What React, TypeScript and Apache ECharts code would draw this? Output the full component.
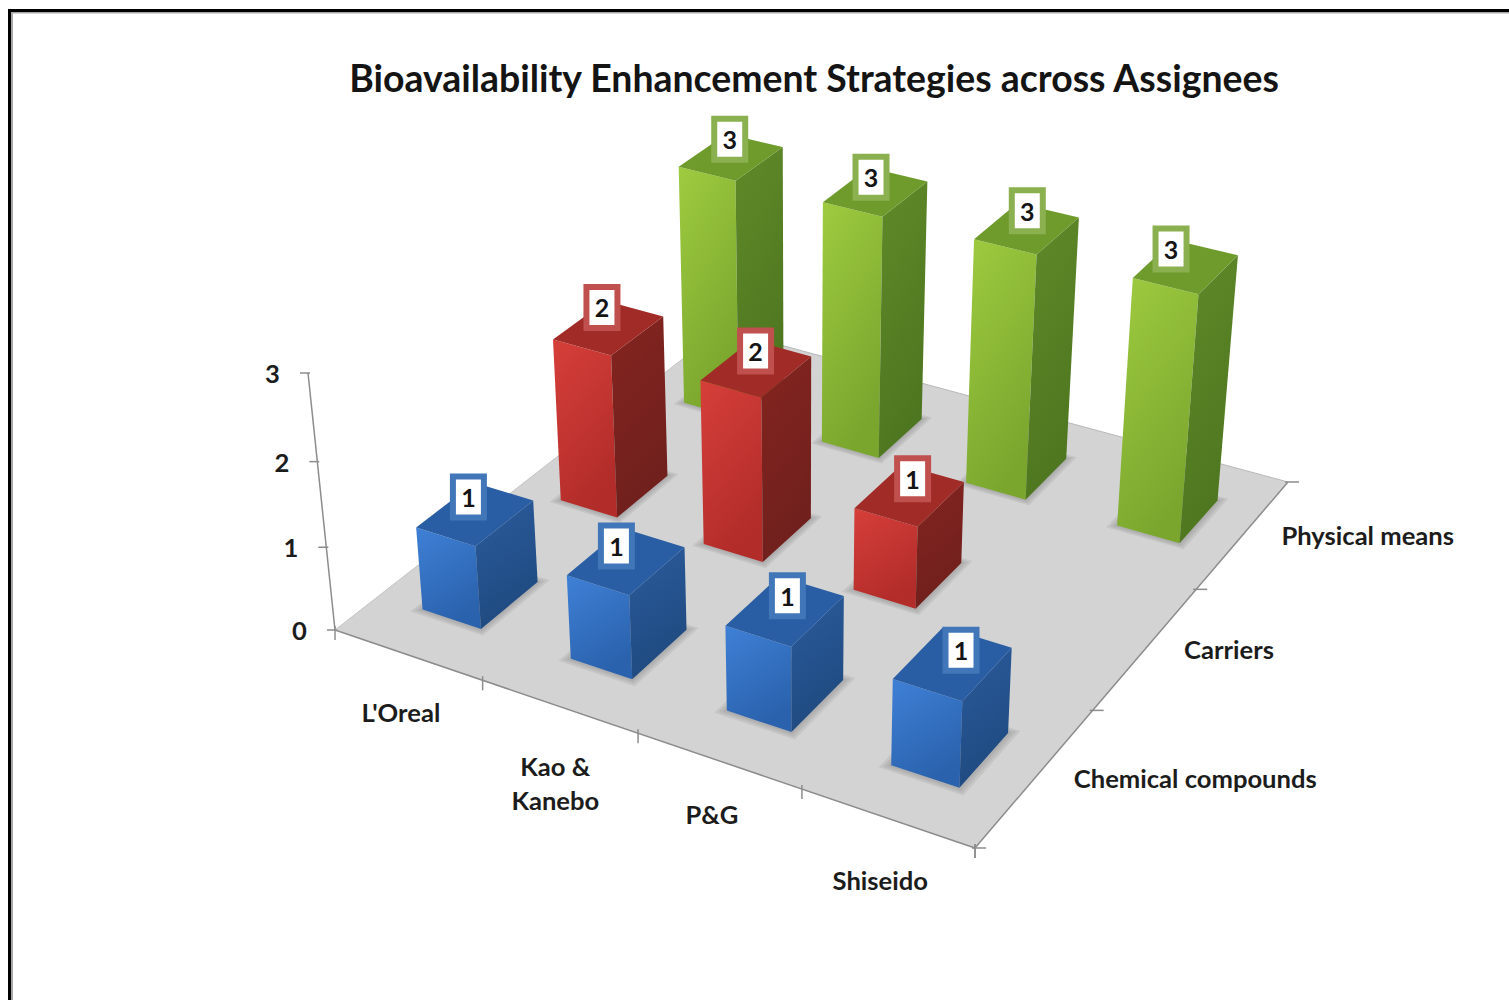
import React, { useEffect, useRef } from "react";
import * as echarts from "echarts";

const chartTitle = "Bioavailability Enhancement Strategies across Assignees";
const assignees = ["L'Oreal", "Kao &\nKanebo", "P&G", "Shiseido"];
const strategies = ["Chemical compounds", "Carriers", "Physical means"];
const valueTicks = [0, 1, 2, 3];

const chemicalCompounds = [1, 1, 1, 1];
const carriers = [2, 2, 1, null];
const physicalMeans = [3, 3, 3, 3];

// Camera: floor corners on screen and the vanishing point of vertical lines.
const FLOOR = [[335, 630], [975, 848], [1288, 482], [721, 329]];
const VANISH = [845, 5486];
const Z_TOP = [308, 373];
const FONT = "Lato";

function makeProjection() {
  const [[x0, y0], [x1, y1], [x2, y2], [x3, y3]] = FLOOR;
  const dx1 = x1 - x2, dx2 = x3 - x2, dx3 = x0 - x1 + x2 - x3;
  const dy1 = y1 - y2, dy2 = y3 - y2, dy3 = y0 - y1 + y2 - y3;
  const den = dx1 * dy2 - dx2 * dy1;
  const g = (dx3 * dy2 - dx2 * dy3) / den;
  const h = (dx1 * dy3 - dx3 * dy1) / den;
  const a = x1 - x0 + g * x1, b = x3 - x0 + h * x3;
  const d = y1 - y0 + g * y1, e = y3 - y0 + h * y3;
  const maxV = valueTicks[valueTicks.length - 1];
  const k = (Z_TOP[1] - y0) / (maxV * (VANISH[1] - Z_TOP[1]));
  return (u: number, v: number, z: number) => {
    const w = g * u + h * v + 1 + k * z;
    return [
      (a * u + b * v + x0 + k * z * VANISH[0]) / w,
      (d * u + e * v + y0 + k * z * VANISH[1]) / w,
    ];
  };
}
const project = makeProjection();

const BAR_DU = 0.1;
const BAR_DV = 0.135;
const BAR_ROW_SHIFT_U = 0.002; // bars sit slightly right of the cell centre on rear rows
const BAR_LEAN = 0.7; // px to the right per unit of height

// Small pixel nudges of the value labels, by row then by assignee.
const LABEL_NUDGE_X = [[-4, -7, 5, 11], [-2, 4, 7, 0], [5, 2, 7, -8]];
const LABEL_NUDGE_Y = [[1, 3, 3, 5], [-2, 1, 2, 0], [1, 4, 1, 1]];
// Nudges of the assignee labels.
const ASSIGNEE_NUDGE_X = [0, 3, 0, 0];
const ASSIGNEE_NUDGE_Y = [-1, 19, -5, 4];

const grad = (x2: number, y2: number, c0: string, c1: string) =>
  new echarts.graphic.LinearGradient(0, 0, x2, y2, [
    { offset: 0, color: c0 },
    { offset: 1, color: c1 },
  ]);

const palettes = [
  { front: ["#3f80d6", "#2a62ad"], side: ["#2b5b9c", "#1f4a80"], top: "#2a5ea4", label: "#4177b8" },
  { front: ["#d63f3a", "#b22c29"], side: ["#84241f", "#70201d"], top: "#a12b27", label: "#c0504d" },
  { front: ["#9ecb3f", "#7aa62e"], side: ["#5f8a28", "#4e7620"], top: "#6f9b2c", label: "#8bb050" },
];

const SHADOW_STEPS = [0.012, 0.008, 0.004];

function barSeries(values: (number | null)[], row: number) {
  const pal = palettes[row];
  const data = values
    .map((val, i) => [i, val])
    .filter((d) => d[1] !== null);
  return {
    type: "custom",
    name: strategies[row],
    coordinateSystem: "none",
    z: 5 + (2 - row),
    silent: true,
    data,
    renderItem: (_: any, api: any) => {
      const i = api.value(0);
      const val = api.value(1);
      const uc = (i + 0.5) / assignees.length + BAR_ROW_SHIFT_U * row;
      const vc = (row + 0.5) / strategies.length;
      const u0 = uc - BAR_DU / 2, u1 = uc + BAR_DU / 2;
      const v0 = vc - BAR_DV / 2, v1 = vc + BAR_DV / 2;
      const pts = (z: number, grow = 0) =>
        [
          project(u0 - grow, v0 - grow, z),
          project(u1 + grow, v0 - grow, z),
          project(u1 + grow, v1 + grow, z),
          project(u0 - grow, v1 + grow, z),
        ].map((p) => [p[0] + BAR_LEAN * z, p[1]]);
      const b = pts(0);
      const t = pts(val);
      const tc = project((i + 0.5) / assignees.length, vc, val);
      const lx = tc[0] - 2 + LABEL_NUDGE_X[row][i];
      const ly = tc[1] - 18 + LABEL_NUDGE_Y[row][i];
      return {
        type: "group",
        children: [
          ...SHADOW_STEPS.map((grow) => ({
            type: "polygon",
            shape: { points: pts(0, grow) },
            style: { fill: "rgba(110,110,110,0.13)" },
          })),
          { type: "polygon", shape: { points: [t[0], t[1], b[1], b[0]] }, style: { fill: grad(0.4, 1, pal.front[0], pal.front[1]) } },
          { type: "polygon", shape: { points: [t[1], t[2], b[2], b[1]] }, style: { fill: grad(0.3, 1, pal.side[0], pal.side[1]) } },
          { type: "polygon", shape: { points: t }, style: { fill: pal.top } },
          {
            type: "rect",
            shape: { x: lx - 15.5, y: ly - 20.5, width: 31, height: 41 },
            style: { fill: "#ffffff", stroke: pal.label, lineWidth: 6 },
          },
          {
            type: "text",
            style: {
              x: lx, y: ly, text: String(val), textAlign: "center", textVerticalAlign: "middle",
              fontFamily: FONT, fontWeight: "bold", fontSize: 25, fill: "#141414",
            },
          },
        ],
      };
    },
  };
}

const AXIS = "#8c8c8c";
const seg = (a: number[], b: number[]) => ({
  type: "line",
  shape: { x1: a[0], y1: a[1], x2: b[0], y2: b[1] },
  style: { stroke: AXIS, lineWidth: 1.5 },
});
const axisText = (text: string, x: number, y: number, align = "center") => ({
  type: "text",
  style: {
    x, y, text, textAlign: align, textVerticalAlign: "middle", fontFamily: FONT, fontWeight: "bold",
    fontSize: 25.6, lineHeight: 34, fill: "#1c1c1c",
  },
});

const option = {
  animation: false,
  backgroundColor: "#ffffff",
  title: {
    text: chartTitle,
    left: 809,
    top: 54,
    textAlign: "center",
    textStyle: { fontFamily: FONT, fontWeight: "bold", fontSize: 37.4, color: "#141414" },
  },
  graphic: [
    { type: "rect", shape: { x: 8, y: 9, width: 3, height: 991 }, style: { fill: "#000000" } },
    { type: "rect", shape: { x: 8, y: 9, width: 1501, height: 3 }, style: { fill: "#000000" } },
    { type: "rect", shape: { x: 11, y: 12, width: 2, height: 988 }, style: { fill: "#a8a8a8" } },
    { type: "rect", shape: { x: 11, y: 12, width: 1498, height: 1.5 }, style: { fill: "#a8a8a8" } },
  ],
  series: [
    {
      type: "custom",
      name: "Floor",
      coordinateSystem: "none",
      z: 1,
      silent: true,
      data: [[0]],
      renderItem: () => {
        const corners = [project(0, 0, 0), project(1, 0, 0), project(1, 1, 0), project(0, 1, 0)];
        return {
          type: "group",
          children: [
            { type: "polygon", shape: { points: corners }, style: { fill: "#d3d3d3" } },
            seg(corners[0], corners[1]),
            seg(corners[1], corners[2]),
            { ...seg(corners[3], corners[2]), style: { stroke: "#b8b8b8", lineWidth: 1 } },
            { ...seg(corners[0], corners[3]), style: { stroke: "#c4c4c4", lineWidth: 1 } },
            seg(corners[0], project(0, 0, valueTicks[valueTicks.length - 1])),
          ],
        };
      },
    },
    {
      type: "custom",
      name: "Value axis",
      coordinateSystem: "none",
      z: 2,
      silent: true,
      data: valueTicks.map((t) => [t]),
      renderItem: (_: any, api: any) => {
        const t = api.value(0);
        const p = project(0, 0, t);
        return {
          type: "group",
          children: [
            seg([p[0] + 2, p[1]], [p[0] - 8, p[1]]),
            axisText(String(t), p[0] - 35.5, p[1]),
          ],
        };
      },
    },
    {
      type: "custom",
      name: "Assignee axis",
      coordinateSystem: "none",
      z: 2,
      silent: true,
      data: assignees.map((_, i) => [i]),
      renderItem: (_: any, api: any) => {
        const i = api.value(0);
        const n = assignees.length;
        const tick = project((i + 1) / n, 0, 0);
        const c = project((i + 0.5) / n, 0, 0);
        const children: any[] = [seg([tick[0], tick[1] - 4], [tick[0], tick[1] + 10])];
        children.push(axisText(assignees[i], c[0] - 7 + ASSIGNEE_NUDGE_X[i], c[1] + 58 + ASSIGNEE_NUDGE_Y[i]));
        return { type: "group", children };
      },
    },
    {
      type: "custom",
      name: "Strategy axis",
      coordinateSystem: "none",
      z: 2,
      silent: true,
      data: strategies.map((_, j) => [j]),
      renderItem: (_: any, api: any) => {
        const j = api.value(0);
        const n = strategies.length;
        const tick = project(1, (j + 1) / n, 0);
        const c = project(1, (j + 0.5) / n, 0);
        return {
          type: "group",
          children: [
            seg([tick[0] - 3, tick[1]], [tick[0] + 11, tick[1]]),
            axisText(strategies[j], c[0] + 38, c[1] + 1, "left"),
          ],
        };
      },
    },
    {
      type: "custom",
      name: "Corner ticks",
      coordinateSystem: "none",
      z: 2,
      silent: true,
      data: [[0]],
      renderItem: () => {
        const o = project(0, 0, 0);
        const f = project(1, 0, 0);
        return {
          type: "group",
          children: [
            seg([o[0], o[1] - 4], [o[0], o[1] + 10]),
            seg([f[0], f[1] - 4], [f[0], f[1] + 10]),
            seg([f[0] - 3, f[1]], [f[0] + 11, f[1]]),
          ],
        };
      },
    },
    barSeries(physicalMeans, 2),
    barSeries(carriers, 1),
    barSeries(chemicalCompounds, 0),
  ],
};

export default function App() {
  const ref = useRef<HTMLDivElement>(null);
  useEffect(() => {
    const chart = echarts.init(ref.current!, null, { renderer: "svg" });
    chart.setOption(option as any);
    return () => chart.dispose();
  }, []);
  return <div ref={ref} style={{ position: "absolute", left: 0, top: 0, width: 1509, height: 1000 }} />;
}
